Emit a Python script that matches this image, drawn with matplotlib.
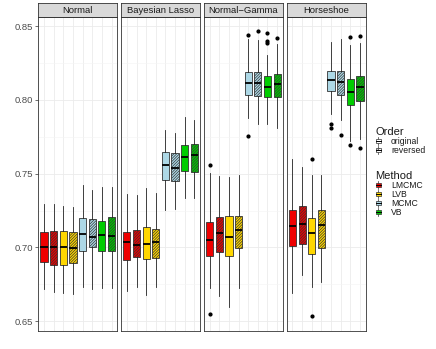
import matplotlib
matplotlib.use("Agg")
import matplotlib.pyplot as plt
from matplotlib.legend_handler import HandlerBase
from matplotlib.lines import Line2D
from matplotlib.patches import Patch, Rectangle
from matplotlib.ticker import MultipleLocator

plt.rcParams["font.family"] = ["Liberation Sans", "DejaVu Sans"]
plt.rcParams["hatch.linewidth"] = 0.5

panels = ["Normal", "Bayesian Lasso", "Normal\u2212Gamma", "Horseshoe"]
methods = ["LMCMC", "LVB", "MCMC", "VB"]
orders = ["original", "reversed"]
method_colors = ["#EE0000", "#FFD700", "#ADD8E6", "#00CD00"]

# box order in every panel: LMCMC orig, LMCMC rev, LVB orig, LVB rev, MCMC ..., VB ...
normal_lo = [0.6716, 0.6698, 0.6693, 0.6684, 0.6734, 0.6720, 0.6727, 0.6727]
normal_q1 = [0.6901, 0.6880, 0.6883, 0.6892, 0.6973, 0.7000, 0.6977, 0.6977]
normal_med = [0.7002, 0.7001, 0.7000, 0.6995, 0.7088, 0.7068, 0.7081, 0.7079]
normal_q3 = [0.7108, 0.7112, 0.7110, 0.7105, 0.7200, 0.7193, 0.7178, 0.7203]
normal_hi = [0.7297, 0.7295, 0.7281, 0.7275, 0.7421, 0.7392, 0.7412, 0.7412]
normal_out = [[], [], [], [], [], [], [], []]

lasso_lo = [0.6707, 0.6729, 0.6675, 0.6734, 0.7254, 0.7261, 0.7335, 0.7335]
lasso_q1 = [0.6916, 0.6937, 0.6919, 0.6930, 0.7455, 0.7448, 0.7516, 0.7511]
lasso_med = [0.7034, 0.7018, 0.7020, 0.7034, 0.7559, 0.7538, 0.7615, 0.7624]
lasso_q3 = [0.7103, 0.7121, 0.7137, 0.7128, 0.7646, 0.7640, 0.7694, 0.7703]
lasso_hi = [0.7360, 0.7356, 0.7403, 0.7372, 0.7797, 0.7775, 0.7883, 0.7865]
lasso_out = [[], [], [], [], [], [], [], []]

ng_lo = [0.6727, 0.6671, 0.6597, 0.6727, 0.7876, 0.7838, 0.7838, 0.7806]
ng_q1 = [0.6943, 0.6968, 0.6943, 0.6995, 0.8032, 0.8023, 0.8018, 0.8018]
ng_med = [0.7052, 0.7095, 0.7074, 0.7117, 0.8117, 0.8113, 0.8086, 0.8106]
ng_q3 = [0.7171, 0.7209, 0.7211, 0.7216, 0.8189, 0.8189, 0.8162, 0.8178]
ng_hi = [0.7503, 0.7482, 0.7475, 0.7488, 0.8410, 0.8405, 0.8304, 0.8376]
ng_out = [[0.7556, 0.6547], [], [], [], [0.8437, 0.7757], [0.8464],
          [0.8455, 0.8399, 0.8385], [0.8421]]

hs_lo = [0.6689, 0.6813, 0.6734, 0.6766, 0.7903, 0.7865, 0.7718, 0.7734]
hs_q1 = [0.7013, 0.7025, 0.6953, 0.6993, 0.8061, 0.8034, 0.7964, 0.7995]
hs_med = [0.7144, 0.7162, 0.7099, 0.7155, 0.8135, 0.8122, 0.8054, 0.8086]
hs_q3 = [0.7257, 0.7284, 0.7198, 0.7257, 0.8198, 0.8196, 0.8144, 0.8162]
hs_hi = [0.7599, 0.7543, 0.7488, 0.7493, 0.8390, 0.8410, 0.8372, 0.8383]
hs_out = [[], [], [0.7601, 0.6534], [], [0.7836, 0.7811], [0.7761],
          [0.8426, 0.7691], [0.8430, 0.7676]]

panel_data = [
    (normal_lo, normal_q1, normal_med, normal_q3, normal_hi, normal_out),
    (lasso_lo, lasso_q1, lasso_med, lasso_q3, lasso_hi, lasso_out),
    (ng_lo, ng_q1, ng_med, ng_q3, ng_hi, ng_out),
    (hs_lo, hs_q1, hs_med, hs_q3, hs_hi, hs_out),
]

HATCH = "////////////"
EDGE = "#333333"

W, H = 436, 349
fig = plt.figure(figsize=(W / 100, H / 100), dpi=100)

lefts = [38.3, 121.1, 203.9, 286.7]
pw = 79.0
p_top, p_bot, s_top = 17.0, 331.0, 3.0

for i, (name, data) in enumerate(zip(panels, panel_data)):
    lo, q1, med, q3, hi, out = data
    ax = fig.add_axes([lefts[i] / W, 1 - p_bot / H, pw / W, (p_bot - p_top) / H])
    stats = []
    for k in range(8):
        stats.append(dict(whislo=lo[k], q1=q1[k], med=med[k], q3=q3[k],
                          whishi=hi[k], fliers=out[k]))
    bp = ax.bxp(
        stats, positions=range(1, 9), widths=0.75, patch_artist=True,
        showcaps=False,
        boxprops=dict(edgecolor=EDGE, linewidth=0.6),
        whiskerprops=dict(color="#222222", linewidth=0.6),
        medianprops=dict(color="black", linewidth=1.3),
        flierprops=dict(marker="o", markersize=2.0, markerfacecolor="black",
                        markeredgecolor="black", linestyle="none"),
    )
    for k, box in enumerate(bp["boxes"]):
        box.set_facecolor(method_colors[k // 2])
        if k % 2 == 1:
            box.set_hatch(HATCH)

    ax.set_xlim(0.4, 8.6)
    ax.set_ylim(0.6434, 0.8561)
    ax.set_xticks(range(1, 9))
    ax.set_xticklabels([])
    ax.yaxis.set_major_locator(MultipleLocator(0.05))
    ax.yaxis.set_minor_locator(MultipleLocator(0.025))
    ax.grid(True, which="major", color="#EBEBEB", linewidth=0.6)
    ax.grid(True, which="minor", axis="y", color="#F4F4F4", linewidth=0.4)
    ax.set_axisbelow(True)
    ax.tick_params(axis="x", length=0)
    ax.tick_params(axis="y", which="minor", length=0)
    if i == 0:
        ax.tick_params(axis="y", length=2.5, width=0.5, color=EDGE,
                       labelsize=6.8, labelcolor="#4D4D4D", pad=1.5)
        ax.yaxis.set_major_formatter(plt.FormatStrFormatter("%.2f"))
    else:
        ax.tick_params(axis="y", length=0, labelleft=False)
    for sp in ax.spines.values():
        sp.set_color(EDGE)
        sp.set_linewidth(0.6)

    sax = fig.add_axes([lefts[i] / W, 1 - p_top / H, pw / W, (p_top - s_top) / H])
    sax.set_facecolor("#D9D9D9")
    sax.set_xticks([])
    sax.set_yticks([])
    for sp in sax.spines.values():
        sp.set_color(EDGE)
        sp.set_linewidth(0.6)
    sax.text(0.5, 0.45, name, ha="center", va="center", fontsize=6.8,
             color="#1A1A1A", transform=sax.transAxes)


class BoxKey(HandlerBase):
    def create_artists(self, legend, orig_handle, xdescent, ydescent,
                       width, height, fontsize, trans):
        cx = width / 2 - xdescent
        y0 = -ydescent
        bw = width * 0.8
        rect = Rectangle((cx - bw / 2, y0 + height * 0.15), bw, height * 0.7,
                         facecolor=orig_handle.get_facecolor(), edgecolor=EDGE,
                         hatch=orig_handle.get_hatch(), linewidth=0.5,
                         transform=trans)
        wl = Line2D([cx, cx], [y0 - height * 0.1, y0 + height * 1.1],
                    color=EDGE, linewidth=0.5, transform=trans)
        ml = Line2D([cx - bw / 2, cx + bw / 2], [y0 + height / 2] * 2,
                    color="black", linewidth=0.7, transform=trans)
        return [wl, rect, ml]


order_handles = [Patch(facecolor="white", edgecolor=EDGE),
                 Patch(facecolor="white", edgecolor=EDGE, hatch="//////")]
method_handles = [Patch(facecolor=c, edgecolor=EDGE) for c in method_colors]

leg_kw = dict(frameon=False, fontsize=6.2, title_fontsize=8.0,
              handler_map={Patch: BoxKey()}, handlelength=0.75,
              handleheight=0.7, handletextpad=1.1, labelspacing=0.0,
              borderpad=0, borderaxespad=0, alignment="left", loc="upper left")
leg1 = fig.legend(order_handles, orders, title="Order",
                  bbox_to_anchor=(375 / W, 1 - 127 / H), **leg_kw)
leg2 = fig.legend(method_handles, methods, title="Method",
                  bbox_to_anchor=(375 / W, 1 - 171 / H), **leg_kw)
for leg in (leg1, leg2):
    leg.get_title().set_color("#1A1A1A")
    for t in leg.get_texts():
        t.set_color("#1A1A1A")

fig.savefig("out.png", dpi=100)
